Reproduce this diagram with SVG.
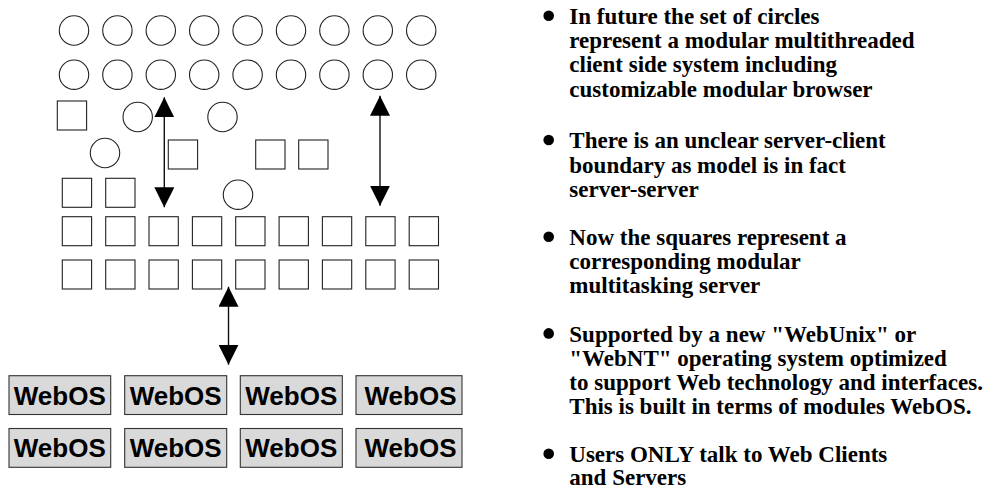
<svg xmlns="http://www.w3.org/2000/svg" width="990" height="489" viewBox="0 0 990 489">
<style>
.c{fill:#fff;stroke:#222;stroke-width:1.1}
.s{fill:#fff;stroke:#222;stroke-width:1.1}
.w{fill:#d9d9d9;stroke:#333;stroke-width:1.1}
.wt{font-family:"Liberation Sans",Arial,sans-serif;font-weight:bold;font-size:26px;fill:#000;text-anchor:middle}
.t{font-family:"Liberation Serif","Times New Roman",serif;font-weight:bold;font-size:23px;fill:#000}
.b{fill:#000}
.a{stroke:#111;stroke-width:1.4;fill:none;marker-start:url(#ah);marker-end:url(#ah)}
</style>
<defs>
<marker id="ah" markerUnits="userSpaceOnUse" markerWidth="20" markerHeight="20" refX="20" refY="10" orient="auto-start-reverse" viewBox="0 0 20 20">
<path d="M0,0 L20,10 L0,20 Z" fill="#000"/>
</marker>
</defs>
<g id="clients-row1">
<circle class="c" cx="74" cy="30.5" r="14.7"/>
<circle class="c" cx="117.4" cy="30.5" r="14.7"/>
<circle class="c" cx="160.8" cy="30.5" r="14.7"/>
<circle class="c" cx="204.2" cy="30.5" r="14.7"/>
<circle class="c" cx="247.6" cy="30.5" r="14.7"/>
<circle class="c" cx="291" cy="30.5" r="14.7"/>
<circle class="c" cx="334.4" cy="30.5" r="14.7"/>
<circle class="c" cx="377.8" cy="30.5" r="14.7"/>
<circle class="c" cx="421.2" cy="30.5" r="14.7"/>
</g>
<g id="clients-row2">
<circle class="c" cx="74" cy="74.7" r="14.7"/>
<circle class="c" cx="117.4" cy="74.7" r="14.7"/>
<circle class="c" cx="160.8" cy="74.7" r="14.7"/>
<circle class="c" cx="204.2" cy="74.7" r="14.7"/>
<circle class="c" cx="247.6" cy="74.7" r="14.7"/>
<circle class="c" cx="291" cy="74.7" r="14.7"/>
<circle class="c" cx="334.4" cy="74.7" r="14.7"/>
<circle class="c" cx="377.8" cy="74.7" r="14.7"/>
<circle class="c" cx="421.2" cy="74.7" r="14.7"/>
</g>
<g id="mixed">
<rect class="s" x="57.3" y="101" width="29.3" height="29"/>
<circle class="c" cx="137.7" cy="117" r="14.7"/>
<circle class="c" cx="222.5" cy="117" r="14.7"/>
<circle class="c" cx="105" cy="153" r="14.7"/>
<rect class="s" x="168.3" y="140" width="29.3" height="29"/>
<rect class="s" x="255.7" y="140" width="29.3" height="29"/>
<rect class="s" x="298.7" y="140" width="29.3" height="29"/>
<rect class="s" x="62.3" y="178.3" width="29.3" height="29"/>
<rect class="s" x="105.7" y="178.3" width="29.3" height="29"/>
<circle class="c" cx="238" cy="194.7" r="14.7"/>
</g>
<g id="servers-row1">
<rect class="s" x="62.3" y="216.7" width="29.3" height="29"/>
<rect class="s" x="105.7" y="216.7" width="29.3" height="29"/>
<rect class="s" x="149" y="216.7" width="29.3" height="29"/>
<rect class="s" x="192.4" y="216.7" width="29.3" height="29"/>
<rect class="s" x="235.7" y="216.7" width="29.3" height="29"/>
<rect class="s" x="279.1" y="216.7" width="29.3" height="29"/>
<rect class="s" x="322.4" y="216.7" width="29.3" height="29"/>
<rect class="s" x="365.8" y="216.7" width="29.3" height="29"/>
<rect class="s" x="409.2" y="216.7" width="29.3" height="29"/>
</g>
<g id="servers-row2">
<rect class="s" x="62.3" y="260" width="29.3" height="29"/>
<rect class="s" x="105.7" y="260" width="29.3" height="29"/>
<rect class="s" x="149" y="260" width="29.3" height="29"/>
<rect class="s" x="192.4" y="260" width="29.3" height="29"/>
<rect class="s" x="235.7" y="260" width="29.3" height="29"/>
<rect class="s" x="279.1" y="260" width="29.3" height="29"/>
<rect class="s" x="322.4" y="260" width="29.3" height="29"/>
<rect class="s" x="365.8" y="260" width="29.3" height="29"/>
<rect class="s" x="409.2" y="260" width="29.3" height="29"/>
</g>
<g id="webos-1"><rect class="w" x="9" y="375.7" width="101.7" height="38.8"/><text class="wt" x="59.8" y="404.5">WebOS</text></g>
<g id="webos-2"><rect class="w" x="124.7" y="375.7" width="102" height="38.8"/><text class="wt" x="175.7" y="404.5">WebOS</text></g>
<g id="webos-3"><rect class="w" x="240.3" y="375.7" width="102" height="38.8"/><text class="wt" x="291.3" y="404.5">WebOS</text></g>
<g id="webos-4"><rect class="w" x="356" y="375.7" width="106" height="38.8"/><text class="wt" x="410.5" y="404.5">WebOS</text></g>
<g id="webos-5"><rect class="w" x="9" y="428.5" width="101.7" height="38.8"/><text class="wt" x="59.8" y="457">WebOS</text></g>
<g id="webos-6"><rect class="w" x="124.7" y="428.5" width="102" height="38.8"/><text class="wt" x="175.7" y="457">WebOS</text></g>
<g id="webos-7"><rect class="w" x="240.3" y="428.5" width="102" height="38.8"/><text class="wt" x="291.3" y="457">WebOS</text></g>
<g id="webos-8"><rect class="w" x="356" y="428.5" width="106" height="38.8"/><text class="wt" x="410.5" y="457">WebOS</text></g>
<g id="connectors">
<line class="a" x1="164.3" y1="97.3" x2="164.3" y2="207.3"/>
<line class="a" x1="380" y1="95.7" x2="380" y2="205.7"/>
<line class="a" x1="228.5" y1="286.7" x2="228.5" y2="364.7"/>
</g>
<g id="notes">
<circle class="b" cx="548.7" cy="15.7" r="5.3"/>
<text class="t" x="569.3" y="24">In future the set of circles</text>
<text class="t" x="569.3" y="48.2">represent a modular multithreaded</text>
<text class="t" x="569.3" y="72.4">client side system including</text>
<text class="t" x="569.3" y="96.6">customizable modular browser</text>
<circle class="b" cx="548.7" cy="140" r="5.3"/>
<text class="t" x="569.3" y="148.3">There is an unclear server-client</text>
<text class="t" x="569.3" y="172.5">boundary as model is in fact</text>
<text class="t" x="569.3" y="196.7">server-server</text>
<circle class="b" cx="548.7" cy="236.7" r="5.3"/>
<text class="t" x="569.3" y="245">Now the squares represent a</text>
<text class="t" x="569.3" y="269.2">corresponding modular</text>
<text class="t" x="569.3" y="293.4">multitasking server</text>
<circle class="b" cx="548.7" cy="333.4" r="5.3"/>
<text class="t" x="569.3" y="341.7">Supported by a new "WebUnix" or</text>
<text class="t" x="569.3" y="365.9">"WebNT" operating system optimized</text>
<text class="t" x="569.3" y="390.1">to support Web technology and interfaces.</text>
<text class="t" x="569.3" y="414.3">This is built in terms of modules WebOS.</text>
<circle class="b" cx="548.7" cy="453.7" r="5.3"/>
<text class="t" x="569.3" y="462">Users ONLY talk to Web Clients</text>
<text class="t" x="569.3" y="485">and Servers</text>
</g>
</svg>
